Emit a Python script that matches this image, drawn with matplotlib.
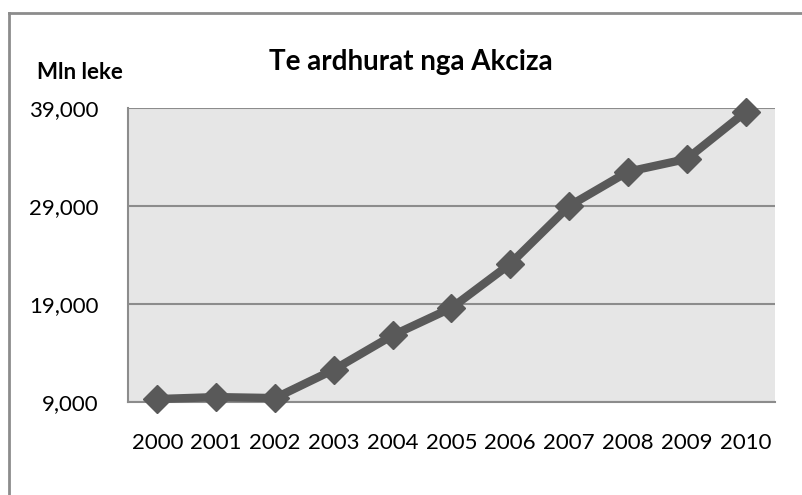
import matplotlib
matplotlib.use("Agg")
import matplotlib.pyplot as plt
from matplotlib.lines import Line2D
from matplotlib.ticker import FuncFormatter

years = ["2000", "2001", "2002", "2003", "2004", "2005", "2006", "2007", "2008", "2009", "2010"]
revenue = [9300, 9500, 9400, 12300, 15800, 18600, 23100, 29000, 32500, 33800, 38600]
yticks = [9000, 19000, 29000, 39000]

plt.rcParams["font.family"] = ["Lato", "DejaVu Sans"]

fig = plt.figure(figsize=(8.03, 4.95), dpi=100)
ax = fig.add_axes([0.1594, 0.1879, 0.8057, 0.5939])
ax.set_facecolor("#e6e6e6")

x = list(range(len(years)))
ax.plot(x, revenue, color="#595959", linewidth=6, marker="D", markersize=14,
        markerfacecolor="#595959", markeredgecolor="#595959", zorder=3, clip_on=False)

ax.set_xlim(-0.5, len(years) - 0.5)
ax.set_ylim(9000, 39000)
ax.set_yticks(yticks)
ax.yaxis.set_major_formatter(FuncFormatter(lambda v, p: f"{int(v):,}"))
ax.set_xticks(x)
ax.set_xticklabels(years)
ax.grid(axis="y", color="#8c8c8c", linewidth=1.5)
ax.set_axisbelow(True)

for s in ["top", "right"]:
    ax.spines[s].set_visible(False)
for s in ["left", "bottom"]:
    ax.spines[s].set_color("#8c8c8c")
    ax.spines[s].set_linewidth(1.5)
ax.tick_params(axis="both", length=0, labelsize=16, colors="black")
ax.tick_params(axis="y", pad=21)
ax.tick_params(axis="x", pad=22)

fig.text(0.511, 0.875, "Te ardhurat nga Akciza", ha="center", va="center",
         fontsize=20, fontweight="bold")
fig.text(0.0996, 0.853, "Mln leke", ha="center", va="center", fontsize=16, fontweight="bold")

# outer chart frame (left and top edges visible)
fig.add_artist(Line2D([0.0106, 0.0106], [0, 0.974], color="#8c8c8c", linewidth=2,
                      transform=fig.transFigure))
fig.add_artist(Line2D([0.0106, 1.0], [0.974, 0.974], color="#8c8c8c", linewidth=2,
                      transform=fig.transFigure))

fig.savefig("out.png", dpi=100)
